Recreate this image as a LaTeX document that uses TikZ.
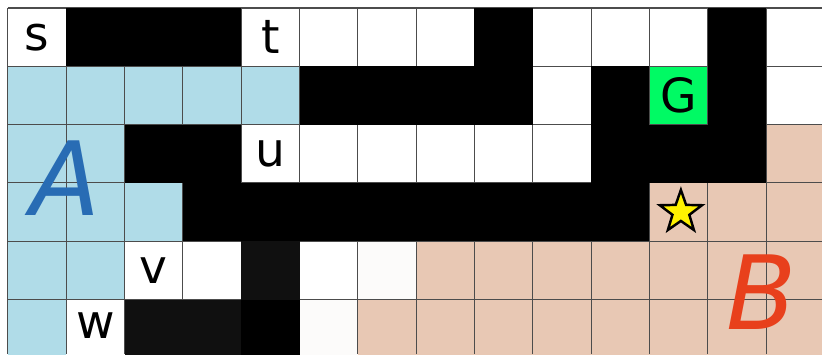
\documentclass[tikz,border=0pt]{standalone}
\usepackage{fontspec}
\setmainfont{DejaVu Sans}
\usetikzlibrary{shapes.geometric}
\definecolor{regionA}{RGB}{176,220,232}
\definecolor{regionB}{RGB}{232,200,180}
\definecolor{goalgreen}{RGB}{0,250,100}
\definecolor{letterA}{RGB}{40,108,180}
\definecolor{letterB}{RGB}{232,64,28}
\definecolor{nearblack}{RGB}{16,16,16}
\definecolor{nearwhite}{RGB}{252,251,250}
\begin{document}
\begin{tikzpicture}[x=1cm,y=-1cm,
    cell/.style={font=\fontsize{23}{23}\selectfont, inner sep=0pt},
    region/.style={font=\fontsize{50}{50}\selectfont\itshape, inner sep=0pt}]
    \useasboundingbox (-0.137,-0.137) rectangle (13.96,5.935);
    % Region A
    \foreach \c/\r in {0/1,1/1,2/1,3/1,4/1,0/2,1/2,0/3,1/3,2/3,0/4,1/4,0/5}
      \fill[regionA] (\c,\r) rectangle ++(1,1);
    % Region B
    \foreach \c/\r in {13/2,11/3,12/3,13/3,7/4,8/4,9/4,10/4,11/4,12/4,13/4,6/5,7/5,8/5,9/5,10/5,11/5,12/5,13/5}
      \fill[regionB] (\c,\r) rectangle ++(1,1);
    \foreach \c/\r in {6/4,5/5}
      \fill[nearwhite] (\c,\r) rectangle ++(1,1);
    % Goal
    \fill[goalgreen] (11,1) rectangle ++(1,1);
    % Grid
    \foreach \c in {0,...,13}
      \draw[black!70, line width=0.5pt] (\c,0) -- (\c,5.935);
    \foreach \r in {0,...,5}
      \draw[black!70, line width=0.5pt] (0,\r) -- (13.96,\r);
    % Walls
    \foreach \c/\r in {1/0,2/0,3/0,8/0,12/0,5/1,6/1,7/1,8/1,10/1,12/1,2/2,3/2,10/2,11/2,12/2,3/3,4/3,5/3,6/3,7/3,8/3,9/3,10/3,4/5}
      \fill[black] (\c,\r) rectangle ++(1,1);
    \foreach \c/\r in {4/4,2/5,3/5}
      \fill[nearblack] (\c,\r) rectangle ++(1,1);
    % Cell labels
    \node[cell] (s) at (0.5,0.5) {s};
    \node[cell] (t) at (4.5,0.5) {t};
    \node[cell] (G) at (11.5,1.5) {G};
    \node[cell] (u) at (4.5,2.5) {u};
    \node[cell] (v) at (2.5,4.5) {v};
    \node[cell] (w) at (1.5,5.45) {w};
    \node[star, star points=5, star point ratio=2.5, minimum size=0.76cm, inner sep=0pt,
      fill=yellow, draw=black, line width=1.2pt] (star) at (11.54,3.5) {};
    % Region names
    \node[region, text=letterA] (nameA) at (0.99,2.92) {A};
    \node[region, text=letterB] (nameB) at (12.93,4.87) {B};
\end{tikzpicture}
\end{document}
